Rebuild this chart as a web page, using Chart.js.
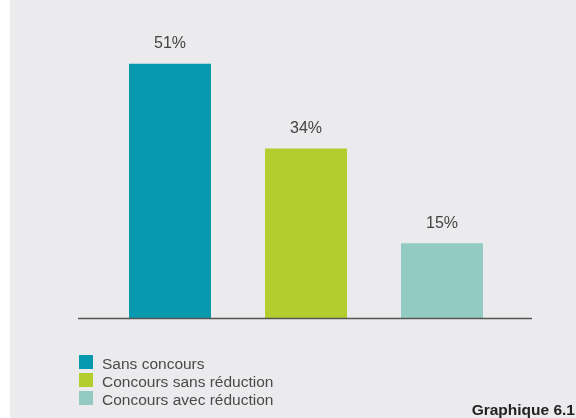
<!DOCTYPE html>
<html>
<head>
<meta charset="utf-8">
<script src="https://cdn.jsdelivr.net/npm/chart.js@4/dist/chart.umd.min.js"></script>
<style>
  html, body { margin: 0; padding: 0; }
  body { width: 576px; height: 418px; background: #ffffff; position: relative; overflow: hidden; font-family: "Liberation Sans", Arial, sans-serif; }
  #panel { position: absolute; left: 10px; top: 0; width: 566px; height: 418px; background: #ebebed; }
  #wrap { position: absolute; left: 0; top: 0; width: 576px; height: 418px; }
  #legend { position: absolute; left: 79px; top: 355px; margin: 0; padding: 0; list-style: none; }
  #legend li { height: 18px; position: relative; }
  #legend span.box { position: absolute; left: 0; top: 0; width: 14px; height: 14px; }
  #legend span.txt { position: absolute; left: 23px; top: 2px; white-space: nowrap; font-size: 15.5px; line-height: 14px; color: #4a4a4a; }
  #note { position: absolute; right: 1px; top: 402px; font-size: 15.5px; line-height: 16px; font-weight: bold; color: #222; }
</style>
</head>
<body>
<div id="panel"></div>
<div id="wrap"><canvas id="c" width="576" height="418"></canvas></div>
<ul id="legend"></ul>
<div id="note">Graphique 6.1</div>
<script>
const categories = ["Sans concours", "Concours sans réduction", "Concours avec réduction"];
const values = [51, 34, 15];
const colors = ["#079aae", "#b3cd2f", "#93cbc3"];
const yMax = 60;

const labelPlugin = {
  id: 'labels',
  afterDatasetsDraw(chart) {
    const ctx = chart.ctx;
    const meta = chart.getDatasetMeta(0);
    ctx.save();
    ctx.font = '16px "Liberation Sans", Arial, sans-serif';
    ctx.fillStyle = '#444';
    ctx.textAlign = 'center';
    ctx.textBaseline = 'middle';
    meta.data.forEach((bar, i) => {
      ctx.fillText(values[i] + '%', bar.x, bar.y - 20);
    });
    const a = chart.chartArea;
    ctx.strokeStyle = '#555';
    ctx.lineWidth = 1.5;
    ctx.beginPath();
    ctx.moveTo(a.left - 24, a.bottom + 0.5);
    ctx.lineTo(a.right + 22, a.bottom + 0.5);
    ctx.stroke();
    ctx.restore();
  }
};

const chart = new Chart(document.getElementById('c'), {
  type: 'bar',
  data: {
    labels: categories,
    datasets: [{
      data: values,
      backgroundColor: colors,
      borderWidth: 0,
      categoryPercentage: 1,
      barPercentage: 0.603
    }]
  },
  options: {
    responsive: false,
    animation: false,
    layout: { padding: { left: 102, right: 66, top: 19, bottom: 100 } },
    plugins: { legend: { display: false }, tooltip: { enabled: false } },
    scales: {
      x: { display: false },
      y: { display: false, min: 0, max: yMax }
    }
  },
  plugins: [labelPlugin]
});

const ul = document.getElementById('legend');
categories.forEach((c, i) => {
  const li = document.createElement('li');
  const b = document.createElement('span'); b.className = 'box'; b.style.background = colors[i];
  const t = document.createElement('span'); t.className = 'txt'; t.textContent = c;
  li.appendChild(b); li.appendChild(t); ul.appendChild(li);
});
</script>
</body>
</html>
